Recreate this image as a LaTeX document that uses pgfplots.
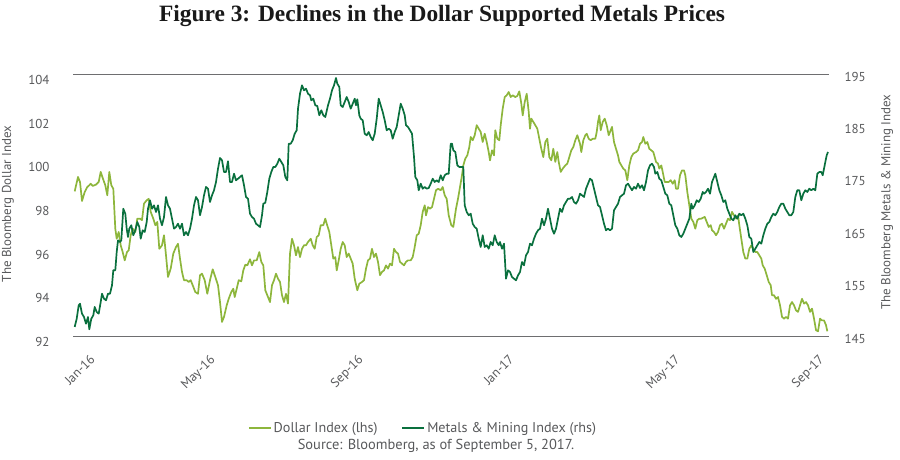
\documentclass[border=0pt]{standalone}
\usepackage{pgfplots}
\usepackage{pgfplotstable}
\pgfplotsset{compat=1.18}
\usepackage{fontspec}
\setmainfont{PT Sans}
\newfontfamily\titlefont{Liberation Serif}
\definecolor{dollar}{RGB}{141,182,60}
\definecolor{metals}{RGB}{10,112,62}
\definecolor{txt}{RGB}{88,89,91}
\definecolor{axl}{RGB}{110,110,112}

\pgfplotstableread{
x y
74.7 98.67
78 99.33
80 99.10
82 98.23
84.7 98.64
87.3 98.87
89.3 98.95
90.7 99.02
92.7 98.92
96 98.98
98.7 99.10
100.7 99.56
102.7 99.28
105.3 98.95
107.3 98.49
109.3 99.56
111.3 98.95
113.3 98.79
115.3 96.96
116.7 96.50
118.7 96.81
120.7 96.20
122.7 95.89
124.7 95.51
127 95.89
128.7 95.97
130.7 96.66
132.7 96.96
135.3 96.81
137.3 97.42
140 97.42
142 97.35
144 98.11
146.7 98.26
148.7 98.33
150.7 97.73
153.3 97.42
155.3 97.12
157.3 97.27
159.3 96.04
162 96.20
164 96.66
166 95.74
168 94.75
170.7 95.13
173.3 95.82
176 96.12
178 96.27
180 95.59
182 94.98
184 94.60
186.7 94.60
188.7 94.52
190.7 94.60
192.7 94.37
195.3 94.06
198 93.98
200 94.83
202 94.90
204.7 94.60
207.3 93.98
210 94.60
212.7 95.10
215.3 94.75
218 94.37
220 93.60
222 92.69
224 92.92
226.7 93.45
228.7 93.75
231.3 94.06
233.3 94.21
234.7 93.83
236.7 94.21
238.7 94.60
241.3 94.55
243.3 95.05
245.3 95.31
247.3 95.28
250 95.56
252 95.28
254 95.51
256.7 95.51
259.3 95.89
261.3 95.44
263.3 95.28
265.3 94.14
268 93.83
270 93.60
272 94.37
274 94.60
276 94.90
278 94.67
280 94.52
282 93.91
284 93.60
286 93.98
288 93.53
290 95.82
292 96.50
294 96.20
296 95.74
298 96.12
300 95.66
302 96.04
304 96.20
306 96.20
308 96.35
310.7 96.50
312.7 96.20
314.7 96.04
316.7 96.58
318.7 96.66
320.7 97.12
323.3 97.12
325.3 97.42
326.7 97.19
329.3 96.81
331.3 96.20
333.3 95.59
335.3 95.66
336.7 95.05
338.7 95.51
340.7 96.04
342.7 96.35
344.7 96.20
346.7 95.66
348.7 95.82
350.7 95.59
352.7 95.36
354.7 94.67
357.3 94.14
359.3 94.44
362 94.52
364 94.60
366 95.13
368 95.51
370 95.59
372 96.04
374 95.66
376 95.82
378 95.44
380 94.83
382 94.98
384 95.05
386 95.28
388 95.13
390 95.36
392 95.28
394 96.04
396 95.89
398 95.82
400 95.44
402 95.36
404 95.28
406 95.44
408 95.51
410.7 95.51
412.7 95.66
414.7 96.12
416.7 96.66
418.7 96.73
420.7 97.12
422.7 97.73
424.7 98.03
426 97.57
428 97.95
430 97.88
432 97.95
434 98.33
436 98.72
438 98.79
440.7 98.72
442.7 98.87
444.7 98.49
446.7 98.33
448.7 97.57
451.3 97.12
453.3 97.04
456 97.88
458 98.33
460 98.87
462 99.41
463.3 99.86
465.3 100.17
467.3 100.32
469.3 100.70
470.7 101.16
472.7 101.01
474.7 101.24
476.7 101.70
478.7 101.54
480.7 101.39
482.7 100.93
484.7 101.31
486.7 100.93
488.7 100.47
490 100.09
492 100.55
494 100.32
495.3 101.47
497.3 101.08
499.3 101.01
500.7 101.70
502.7 102.46
504.7 102.99
506.7 103.07
508.7 103.22
510.7 102.99
512.7 103.07
515.3 102.99
517.3 103.04
519.3 103.25
521.3 102.69
522.7 102.15
524.7 102.76
526.7 103.14
528.7 102.31
530 101.54
531.3 102.00
533.3 101.85
535.3 101.70
537.3 101.54
539.3 101.08
541.3 100.62
543.3 100.24
545.3 100.93
547.3 101.08
549.3 100.24
551.3 100.09
553.3 100.62
555.3 100.02
557.3 100.47
558.7 100.02
560.7 99.56
562.7 99.71
565.3 99.86
567.3 99.94
569.3 100.24
571.3 100.55
573.3 100.70
575.3 101.01
577.3 101.24
580 100.85
581.3 100.47
583.3 101.01
585.3 101.24
586.7 101.31
588.7 101.08
590.7 101.01
592.7 101.08
595.3 101.08
596.7 101.39
598 101.85
599.3 102.15
600.7 101.47
602.7 101.85
604.7 102.00
606.7 101.70
608.7 101.24
610.7 101.47
612 101.62
614 100.93
616 100.62
618 100.32
619.3 100.02
621.3 99.86
623.3 99.71
625.3 99.63
627.3 99.18
629.3 99.86
631.3 100.24
633.3 100.40
636 100.47
638 100.55
640 100.85
642 100.93
643.3 101.16
645.3 100.85
647.3 100.93
649.3 100.62
651.3 100.55
653.3 100.47
654.7 100.24
656 100.02
658 99.94
659.3 99.71
661.3 99.86
662.7 99.56
664.7 99.10
666.7 99.10
668.7 99.10
670.7 99.18
672.7 99.02
674.7 99.18
676 98.79
678 98.79
680 99.41
682 99.63
684 99.63
685.3 99.41
687.3 98.64
689.3 98.03
691.3 97.42
693.3 97.27
695.3 96.96
697.3 97.35
699.3 97.42
701.3 97.42
704.7 97.50
706.7 97.27
708.7 97.04
710.7 97.12
712 96.89
714 96.81
716 96.66
718 96.81
720 97.12
722 97.19
724 96.96
726 97.19
728 97.42
730 97.35
732 97.73
734 97.57
736 97.42
738 97.57
739.3 97.12
741.3 96.50
743.3 95.89
745.3 95.59
747.3 95.59
749.3 96.04
751.3 96.20
753.3 96.04
755.3 95.89
757.3 95.89
759.3 95.74
761.3 95.59
762.7 95.28
764.7 95.13
766.7 94.83
768.7 94.52
770.7 94.37
772 93.91
774 93.91
776 93.75
778 93.83
780 93.45
782 92.92
784 92.84
786 92.92
788 92.84
790 93.45
792 93.60
794 93.45
796 93.22
798 93.15
800 93.45
802 93.75
804 93.53
806 93.60
808 93.45
810 93.15
812 93.30
814 92.84
816 92.31
818 92.26
820 92.84
822 92.76
824 92.76
826 92.54
827.3 92.26
}\dollardata

\pgfplotstableread{
x y
74.7 146.91
76.7 148.49
78.7 151.05
80 151.35
82 149.45
84 148.82
86 147.54
88 148.82
89.3 146.47
91.3 148.49
93.3 149.14
94.7 150.73
96.7 149.77
98.7 149.45
100.7 151.68
102 153.26
104 152.31
106 152.00
108 153.26
110 153.26
112 154.87
113.3 157.73
115.3 157.73
116.7 161.22
118 163.45
120 163.13
121.3 163.45
123.3 169.48
125.3 168.53
126.7 165.67
128 164.08
129.3 165.67
131.3 166.32
133.3 164.41
135.3 165.36
137.3 166.95
139.3 165.99
140.7 163.76
142.7 165.36
144.7 165.04
146.7 166.95
148 169.48
150 171.09
152 169.48
154 170.13
156 168.86
158 170.13
160 167.58
162 166.32
164 167.90
166 171.72
168 170.13
170 169.48
172 167.58
174 165.67
176 165.99
178 166.62
180 165.67
182 166.62
184 164.41
186 165.04
188 164.41
190 165.67
192 167.58
194 170.13
196 171.72
198 171.09
200 168.23
202 169.81
204 172.04
206 173.63
208 173.30
210 170.76
212 172.04
214 173.00
216 174.58
218 177.12
220 179.16
222 178.72
224 176.49
226 176.49
228 178.53
230 174.58
232 174.58
234 176.16
236 174.90
238 175.21
240 175.53
242 175.86
244 173.95
246 171.72
248 171.39
250 168.53
252 167.90
254 167.58
256 166.62
258 166.32
260 165.99
262 168.23
263.3 170.44
265.3 170.63
267.3 172.67
269.3 175.21
271.3 176.49
273.3 177.44
275.3 177.44
277.3 178.07
279.3 179.03
281.3 178.40
283.3 177.77
285.3 175.53
287.3 174.90
288.7 181.89
290.7 181.89
292.7 182.54
294.7 183.80
296.7 184.45
298 188.57
300 191.43
302 193.03
304 192.08
306 192.39
308 191.43
310 191.13
311.3 190.17
313.3 190.48
315.3 189.22
317.3 189.08
319.3 187.31
321.3 188.26
323.3 187.31
325.3 186.98
328 189.22
330 190.48
332 192.08
334 193.03
336 194.43
337.3 193.34
339.3 192.71
340.7 189.22
342.7 188.89
344.7 189.85
346.7 190.80
348.7 189.85
350.7 188.57
352.7 189.52
354.7 190.48
356 189.22
357.3 190.36
359.3 187.31
360.7 186.66
362.7 186.36
364.7 183.80
366.7 183.49
368.7 184.12
370.7 183.17
372.7 182.54
374.7 183.80
376.7 186.66
378.7 190.48
380.7 189.22
382.7 187.94
384.7 186.36
386.7 184.45
388.7 184.75
390.7 184.45
392.7 182.84
394.7 184.12
396.7 185.08
398.7 187.31
400.7 189.52
402.7 188.57
404.7 187.31
406 185.40
408 185.08
410 184.45
412 183.80
414 179.35
415.3 175.53
417.3 174.90
418.7 173.00
420.7 174.26
422.7 173.30
424.7 173.63
426.7 173.30
428.7 173.44
430.7 174.26
432.7 175.21
434.7 174.58
436.7 174.90
438.7 174.58
440.7 175.86
442.7 174.90
444.7 175.86
446.7 176.16
448.7 176.16
450.7 181.89
452 181.89
453.3 180.63
455.3 180.31
457.3 177.77
459.3 177.44
461.3 177.44
463.3 177.44
464.7 170.13
466.7 168.86
468.7 168.23
470.7 168.53
472.7 166.62
474.7 165.99
476.7 165.67
478.7 163.76
480.7 162.18
482.7 164.41
484.7 162.18
486.7 162.50
488.7 161.85
490.7 163.13
492.7 162.50
494.7 164.41
496.7 163.13
498.7 162.50
500 163.13
502 161.85
504 162.81
506 156.13
508 157.73
510 157.40
512 156.45
514 156.13
516 155.82
518 156.77
520 157.40
522 159.31
524 158.68
526 160.59
528 161.22
530 162.81
532 162.50
534 163.76
536 164.71
538 165.36
540 165.67
542 167.58
544 166.32
546 167.58
548 169.48
550 167.58
552 165.67
554 164.71
556 165.67
558 167.58
560 169.48
562 168.86
564 170.13
566 170.76
568 171.39
570 171.39
572 171.72
574 170.76
576 170.44
578 171.09
580 172.35
582 172.04
584 171.72
586 173.30
588 174.26
590 175.21
592 174.90
594 173.30
596 171.72
598 170.13
600 169.81
602 168.23
604 166.62
606 165.36
608 165.67
610 165.36
612 165.67
614 169.18
616 169.81
618 170.44
620 171.72
622 172.04
624 172.35
626 173.95
628 174.26
630 173.63
632 173.00
634 173.63
636 173.30
638 174.26
640 173.44
642 173.95
644 173.00
646 174.58
648 176.81
650 177.77
652 178.07
654 177.44
655.3 176.16
657.3 176.49
659.3 175.21
661.3 174.90
663.3 173.63
665.3 172.35
667.3 172.04
669.3 170.44
671.3 170.13
673.3 168.23
675.3 166.32
677.3 165.67
679.3 164.41
681.3 164.08
683.3 164.71
685.3 165.67
687.3 166.62
689.3 167.58
691.3 170.44
692.7 169.48
694.7 170.13
696.7 171.09
698.7 170.76
700.7 171.39
702.7 172.67
704 172.35
706 172.67
708 173.30
710 172.35
712 174.58
714 175.53
715.3 176.16
717.3 174.58
719.3 173.00
721.3 172.04
723.3 170.76
725.3 171.09
727.3 169.48
729.3 168.53
731.3 167.58
733.3 167.27
735.3 168.23
737.3 167.58
739.3 168.53
741.3 168.23
743.3 168.53
745.3 167.58
747.3 166.32
749.3 164.08
751.3 163.76
753.3 161.22
755.3 161.85
757.3 162.50
759.3 163.13
761.3 162.81
763.3 164.41
765.3 165.67
767.3 166.62
769.3 166.95
771.3 167.90
773.3 168.53
775.3 168.23
777.3 168.86
779.3 169.81
781.3 170.44
783.3 170.44
785.3 169.48
787.3 168.86
789.3 168.23
791.3 168.23
793.3 168.86
795.3 171.72
797.3 173.00
799.3 173.00
801.3 171.09
803.3 172.35
805.3 173.00
807.3 172.67
809.3 173.30
811.3 173.00
813.3 173.30
815.3 173.00
817.3 176.16
819.3 176.49
821.3 176.49
822.7 175.86
824 177.12
825.3 178.40
826.7 179.68
828 180.31
}\metalsdata

\pgfplotsset{
  myaxis/.style={
    at={(73bp,123bp)}, anchor=south west,
    width=756bp, height=262bp, scale only axis,
    xmin=73, xmax=829,
    axis line style={draw=none},
    major tick length=0pt,
    tick label style={font=\fontsize{13}{15}\selectfont, text=txt},
    /pgf/number format/assume math mode=true,
  },
}

\begin{document}
\begin{tikzpicture}[x=1bp,y=1bp]
\useasboundingbox (0,0) rectangle (900,460);
\node[font=\titlefont\bfseries\fontsize{23.5}{26}\selectfont, text=black!90] at (442,444) {Figure 3: Declines in the Dollar Supported Metals Prices};

\begin{axis}[myaxis,
  ymin=92, ymax=104, ytick={92,94,...,104},
  yticklabel style={xshift=-20bp, yshift=-5bp},
  xtick={89,209,357,508,674,818},
  xticklabels={Jan-16,May-16,Sep-16,Jan-17,May-17,Sep-17},
  xticklabel style={rotate=45, anchor=north east},
  xticklabel shift=12bp,
  every axis y label/.style={at={(axis description cs:-0.086,0.508)}, anchor=center, rotate=90,
    font=\fontsize{13}{15}\selectfont, text=txt},
  ylabel={The Bloomberg Dollar Index},
]
\draw[axl, line width=1bp] (rel axis cs:0,0) -- (rel axis cs:1,0);
\draw[axl, line width=1bp] (rel axis cs:0,1) -- (rel axis cs:1,1);
\addplot[dollar, line width=1.7bp, line join=round] table[x=x,y=y] {\dollardata};
\end{axis}

\begin{axis}[myaxis,
  ymin=145, ymax=195, ytick={145,155,...,195},
  yticklabel pos=right,
  yticklabel style={xshift=12bp, yshift=-1.5bp},
  xtick=\empty,
  every axis y label/.style={at={(axis description cs:1.0767,0.515)}, anchor=center, rotate=90,
    font=\fontsize{13}{15}\selectfont, text=txt},
  ylabel={The Bloomberg Metals \& Mining Index},
  legend style={at={(axis description cs:0.463,-0.347)}, anchor=center, draw=none, fill=none,
    font=\fontsize{14.2}{16}\selectfont, text=txt, legend columns=2,
    /tikz/every even column/.append style={column sep=22bp}},
  legend image code/.code={\draw[#1] (0bp,0bp) -- (22bp,0bp);},
]
\addlegendimage{dollar, line width=1.7bp}
\addlegendentry{Dollar Index (lhs)}
\addplot[metals, line width=1.7bp, line join=round] table[x=x,y=y] {\metalsdata};
\addlegendentry{Metals \& Mining Index (rhs)}
\end{axis}

\node[font=\fontsize{14.5}{16}\selectfont, text=txt] at (436,14) {Source: Bloomberg, as of September 5, 2017.};
\end{tikzpicture}
\end{document}
